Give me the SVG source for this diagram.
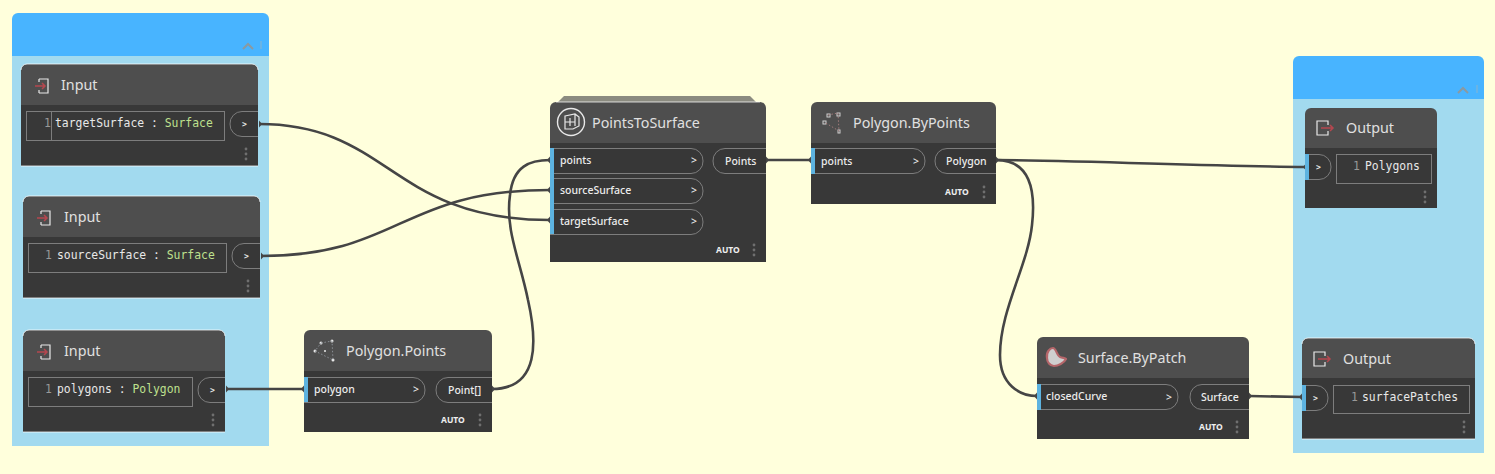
<svg xmlns="http://www.w3.org/2000/svg" width="1495" height="474" viewBox="0 0 1495 474">
<style>
.grp-h{fill:#48b4ff}.grp-b{fill:#a2daef}
.body{fill:#383838}.head{fill:#4e4e4e}.sep{fill:#3a3a3a}
.edge{fill:none;stroke:#ffffff;stroke-width:1;opacity:.75}
.t{font-family:"Noto Sans","Open Sans",sans-serif;font-size:14.300px;fill:#e0e0e0}
.p{font-family:"Noto Sans","Open Sans",sans-serif;font-size:10.500px;font-weight:500;fill:#ececec}
.a{font-family:"Noto Sans","Open Sans",sans-serif;font-size:8.500px;font-weight:700;fill:#efefef}
.m{font-family:"DejaVu Sans Mono","Liberation Mono",monospace;font-size:11.400px;fill:#e8e8e8}
.c{font-family:"DejaVu Sans Mono","Liberation Mono",monospace;font-size:8px;font-weight:700;fill:#e8e8e8}
.n{fill:#999999}.ty{fill:#bfe08e}
.box{fill:none;stroke:#7d7d7d;stroke-width:1}
.pill{fill:#373737;stroke:#7d7d7d;stroke-width:1}
.blue{fill:#5db3e0}
.dot{fill:#6f6f6f}
.ic{fill:none;stroke:#e8e8e8;stroke-width:1.2}
.ar{fill:none;stroke:#b5474f;stroke-width:1.5}
.w{fill:none;stroke:#454545;stroke-width:2.600}
.tip{fill:#454545}
.chev{fill:none;stroke:#8a9aa2;stroke-width:2}
</style>
<defs>
<g id="dots"><circle cx="0" cy="-5" r="1.4" class="dot"/><circle cx="0" cy="0" r="1.4" class="dot"/><circle cx="0" cy="5" r="1.4" class="dot"/></g>
<g id="inicon"><path class="ic" d="M-4-7H5V7H-4M-4-7v3M-4 7v-3"/><path class="ar" d="M-8 0H2M-1-3L2 0L-1 3"/></g>
<g id="outicon"><path class="ic" d="M4-3V-7H-7V7H4V3"/><path class="ar" d="M-3 0H9M6-3L9 0L6 3"/></g>
</defs>
<rect width="1495" height="474" fill="#ffffdc"/>

<g id="group-inputs">
<path class="grp-h" d="M12 56V19a6 6 0 0 1 6-6H263a6 6 0 0 1 6 6V56Z"/>
<rect class="grp-b" x="12" y="56" width="257" height="390"/>
<path class="chev" d="M243 49L248 44L253 49"/><path d="M261 41v8" stroke="#8ab4cc" stroke-width="1"/>
</g>
<g id="group-outputs">
<path class="grp-h" d="M1293 99V62a6 6 0 0 1 6-6H1478a6 6 0 0 1 6 6V99Z"/>
<rect class="grp-b" x="1293" y="99" width="191" height="354"/>
<path class="chev" d="M1458 93L1463 88L1468 93"/><path d="M1477 85v8" stroke="#8ab4cc" stroke-width="1"/>
</g>

<g id="connectors">
<path class="w" d="M259 124C390 124 390 220 550 220"/>
<path class="w" d="M261 256C400 256 400 190 550 190"/>
<path class="w" d="M226 389H304"/>
<path class="w" d="M492 389C540 389 537 340 528 300C520 260 505 230 510 195C513 166 530 160 550 160"/>
<path class="w" d="M766 160H811"/>
<path class="w" d="M996 160C1100 161 1200 166 1306 167"/>
<path class="w" d="M996 160C1030 160 1036 190 1032 225C1028 265 1000 310 1000 355C1000 385 1020 396 1037 396"/>
<path class="w" d="M1249 396L1302 397"/>
<g class="tip">
<path d="M259 120.500L262 124L259 127.500Z"/><path d="M261 252.500L264 256L261 259.500Z"/><path d="M226 385.500L229 389L226 392.500Z"/><path d="M304 385.500L301 389L304 392.500Z"/><path d="M492 385.500L495 389L492 392.500Z"/>
<path d="M550 156.500L547 160L550 163.500Z"/><path d="M550 186.500L547 190L550 193.500Z"/><path d="M550 216.500L547 220L550 223.500Z"/>
<path d="M766 156.500L769 160L766 163.500Z"/><path d="M811 156.500L808 160L811 163.500Z"/><path d="M996 156.500L999 160L996 163.500Z"/>
<path d="M1306 163.500L1303 167L1306 170.500Z"/><path d="M1037 392.500L1034 396L1037 399.500Z"/><path d="M1249 392.500L1252 396L1249 399.500Z"/><path d="M1302 393.500L1299 397L1302 400.500Z"/>
</g>
</g>

<g id="node-input-target">
<path class="body" d="M21 105H258V166H21Z"/><path class="head" d="M21 105V70a6 6 0 0 1 6-6H252a6 6 0 0 1 6 6V105Z"/>
<path class="edge" d="M21 70a6 6 0 0 1 6-6H252a6 6 0 0 1 6 6M21 166H258"/>
<use href="#inicon" x="43" y="86"/><text class="t" x="61" y="90">Input</text>
<rect class="box" x="26.500" y="111.500" width="198" height="29"/><path class="box" d="M51.500 112V140"/>
<text class="m" y="127"><tspan class="n" x="44">1</tspan><tspan x="55">targetSurface : </tspan><tspan class="ty">Surface</tspan></text>
<path class="pill" d="M258 111.500H242a12 12 0 0 0-12 12.500a12 12 0 0 0 12 12.500H258"/>
<text class="c" x="242" y="127">&gt;</text>
<use href="#dots" x="246" y="154"/>
</g>

<g id="node-input-source">
<path class="body" d="M23 237H260V298H23Z"/><path class="head" d="M23 237V202a6 6 0 0 1 6-6H254a6 6 0 0 1 6 6V237Z"/>
<path class="edge" d="M23 202a6 6 0 0 1 6-6H254a6 6 0 0 1 6 6M23 298H260"/>
<use href="#inicon" x="45" y="218"/><text class="t" x="64" y="222">Input</text>
<rect class="box" x="28.500" y="243.500" width="198" height="29"/>
<text class="m" y="259"><tspan class="n" x="45">1</tspan><tspan x="57">sourceSurface : </tspan><tspan class="ty">Surface</tspan></text>
<path class="pill" d="M260 243.500H244a12 12 0 0 0-12 12.500a12 12 0 0 0 12 12.500H260"/>
<text class="c" x="244" y="259">&gt;</text>
<use href="#dots" x="248" y="286"/>
</g>

<g id="node-input-polygons">
<path class="body" d="M23 371H225V432H23Z"/><path class="head" d="M23 371V336a6 6 0 0 1 6-6H219a6 6 0 0 1 6 6V371Z"/>
<path class="edge" d="M23 336a6 6 0 0 1 6-6H219a6 6 0 0 1 6 6M23 432H225"/>
<use href="#inicon" x="45" y="352"/><text class="t" x="64" y="356">Input</text>
<rect class="box" x="28.500" y="377.500" width="164" height="29"/>
<text class="m" y="393"><tspan class="n" x="45">1</tspan><tspan x="57">polygons : </tspan><tspan class="ty">Polygon</tspan></text>
<path class="pill" d="M225 377.500H210a12 12 0 0 0-12 12.500a12 12 0 0 0 12 12.500H225"/>
<text class="c" x="210" y="393">&gt;</text>
<use href="#dots" x="213" y="420"/>
</g>

<g id="node-polygon-points">
<path class="body" d="M304 371H492V432H304Z"/><path class="head" d="M304 371V336a6 6 0 0 1 6-6H486a6 6 0 0 1 6 6V371Z"/>
<g fill="#e8e8e8"><circle cx="321" cy="343" r="1.500"/><circle cx="332" cy="341" r="1.500"/><circle cx="315" cy="351" r="1.500"/><circle cx="333" cy="360" r="1.500"/><circle cx="325" cy="351" r="1"/></g>
<path d="M321 343L332 341L333 360L315 351Z" fill="none" stroke="#8a8f95" stroke-width="1" stroke-dasharray="1.500 2"/>
<text class="t" x="346" y="356">Polygon.Points</text>
<path class="pill" d="M304 377.500H413a12 12 0 0 1 12 12.500a12 12 0 0 1-12 12.500H304"/><rect class="blue" x="304" y="377" width="4" height="25"/>
<text class="p" x="314" y="393">polygon</text><text class="p" x="413" y="393" font-weight="700">&gt;</text>
<path class="pill" d="M492 377.500H448a12 12 0 0 0-12 12.500a12 12 0 0 0 12 12.500H492"/>
<text class="p" x="448" y="394">Point[]</text>
<text class="a" x="441" y="423">AUTO</text><use href="#dots" x="480" y="420"/>
</g>

<g id="node-points-to-surface">
<path d="M558 102L564 96H750L756 102Z" fill="#8b8b80"/>
<path class="body" d="M550 143H766V262H550Z"/><path class="head" d="M550 143V108a6 6 0 0 1 6-6H760a6 6 0 0 1 6 6V143Z"/>
<path class="edge" d="M556 102H760"/>
<circle cx="571" cy="122" r="13.500" fill="none" stroke="#e8e8e8" stroke-width="1.400"/>
<path class="ic" d="M565 116l10-2l4 3v9l-6 3h-8ZM570 118v8M575 114v12M565 122h10" stroke-width="1"/>
<text class="t" x="592" y="128">PointsToSurface</text>
<path class="pill" d="M550 148.500H691a12 12 0 0 1 12 12.500a12 12 0 0 1-12 12.500H550"/>
<path class="pill" d="M550 178.500H691a12 12 0 0 1 12 12.500a12 12 0 0 1-12 12.500H550"/>
<path class="pill" d="M550 209.500H691a12 12 0 0 1 12 12.500a12 12 0 0 1-12 12.500H550"/>
<rect class="blue" x="550" y="148" width="4" height="86"/>
<text class="p" x="560" y="164">points</text><text class="p" x="691" y="164" font-weight="700">&gt;</text>
<text class="p" x="560" y="194">sourceSurface</text><text class="p" x="691" y="194" font-weight="700">&gt;</text>
<text class="p" x="560" y="225">targetSurface</text><text class="p" x="691" y="225" font-weight="700">&gt;</text>
<path class="pill" d="M766 148.500H725a12 12 0 0 0-12 12.500a12 12 0 0 0 12 12.500H766"/>
<text class="p" x="725" y="165">Points</text>
<text class="a" x="716" y="253">AUTO</text><use href="#dots" x="754" y="250"/>
</g>

<g id="node-polygon-bypoints">
<path class="body" d="M811 143H996V204H811Z"/><path class="head" d="M811 143V108a6 6 0 0 1 6-6H990a6 6 0 0 1 6 6V143Z"/>
<g fill="none" stroke="#cfcfcf" stroke-width="1"><rect x="827" y="114" width="3" height="3"/><rect x="837" y="113" width="3" height="3"/><rect x="823" y="121" width="3" height="3"/><rect x="838" y="130" width="2" height="3"/></g>
<path d="M828 115L838 113L839 131L824 122" fill="none" stroke="#a07a7a" stroke-width="1" stroke-dasharray="1.500 2"/>
<text class="t" x="853" y="128">Polygon.ByPoints</text>
<path class="pill" d="M811 148.500H913a12 12 0 0 1 12 12.500a12 12 0 0 1-12 12.500H811"/><rect class="blue" x="811" y="148" width="4" height="26"/>
<text class="p" x="821" y="165">points</text><text class="p" x="913" y="165" font-weight="700">&gt;</text>
<path class="pill" d="M996 148.500H947a12 12 0 0 0-12 12.500a12 12 0 0 0 12 12.500H996"/>
<text class="p" x="946" y="165">Polygon</text>
<text class="a" x="945" y="195">AUTO</text><use href="#dots" x="984" y="192"/>
</g>

<g id="node-surface-bypatch">
<path class="body" d="M1037 378H1249V439H1037Z"/><path class="head" d="M1037 378V343a6 6 0 0 1 6-6H1243a6 6 0 0 1 6 6V378Z"/>
<path d="M1047 358c-1-6 3-10 6-10c3 0 4 8 7 9c3 1 6 1 6 2c-2 4-8 7-12 7c-4 0-7-4-7-8Z" fill="#cfcfcf" stroke="#b5666a" stroke-width="2.200"/>
<text class="t" x="1078" y="363">Surface.ByPatch</text>
<path class="pill" d="M1037 384.500H1166a12 12 0 0 1 12 12.500a12 12 0 0 1-12 12.500H1037"/><rect class="blue" x="1037" y="384" width="4" height="26"/>
<text class="p" x="1046" y="400">closedCurve</text><text class="p" x="1166" y="401" font-weight="700">&gt;</text>
<path class="pill" d="M1249 384.500H1202a12 12 0 0 0-12 12.500a12 12 0 0 0 12 12.500H1249"/>
<text class="p" x="1201" y="401">Surface</text>
<text class="a" x="1199" y="430">AUTO</text><use href="#dots" x="1237" y="427"/>
</g>

<g id="node-output-polygons">
<path class="body" d="M1305 148H1437V208H1305Z"/><path class="head" d="M1305 148V114a6 6 0 0 1 6-6H1431a6 6 0 0 1 6 6V148Z"/>
<use href="#outicon" x="1324" y="128"/><text class="t" x="1346" y="133">Output</text>
<path class="pill" d="M1305 154.500H1319a12 12 0 0 1 12 12.500a12 12 0 0 1-12 12.500H1305"/><rect class="blue" x="1305" y="154" width="4" height="26"/>
<text class="c" x="1316" y="170">&gt;</text>
<rect class="box" x="1336.500" y="154.500" width="95" height="29"/>
<text class="m" y="170"><tspan class="n" x="1353">1</tspan><tspan x="1365">Polygons</tspan></text>
<use href="#dots" x="1425" y="197"/>
</g>

<g id="node-output-patches">
<path class="body" d="M1302 378H1475V439H1302Z"/><path class="head" d="M1302 378V344a6 6 0 0 1 6-6H1469a6 6 0 0 1 6 6V378Z"/>
<path class="edge" d="M1302 344a6 6 0 0 1 6-6H1469a6 6 0 0 1 6 6M1302 439H1475"/>
<use href="#outicon" x="1321" y="359"/><text class="t" x="1343" y="364">Output</text>
<path class="pill" d="M1302 385.500H1316a12 12 0 0 1 12 12.500a12 12 0 0 1-12 12.500H1302"/><rect class="blue" x="1302" y="385" width="4" height="26"/>
<text class="c" x="1313" y="401">&gt;</text>
<rect class="box" x="1333.500" y="385.500" width="136" height="28"/>
<text class="m" y="401"><tspan class="n" x="1351">1</tspan><tspan x="1362">surfacePatches</tspan></text>
<use href="#dots" x="1464" y="427"/>
</g>
</svg>
